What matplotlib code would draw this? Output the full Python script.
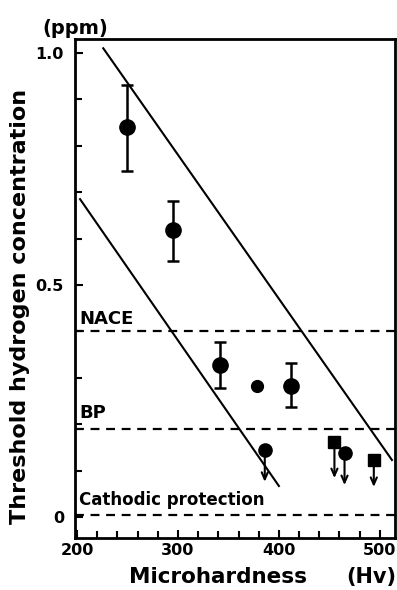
import numpy as np
import matplotlib
matplotlib.use("Agg")
import matplotlib.pyplot as plt
from matplotlib.ticker import MultipleLocator

# Data
hv_err = [250, 295, 342, 412]
h_err = [0.84, 0.618, 0.328, 0.282]
err_lo = [0.094, 0.066, 0.049, 0.044]
err_hi = [0.09, 0.062, 0.05, 0.051]

hv_small = [378]
h_small = [0.282]

# upper-limit points (arrows)
hv_circ_up = [386, 465]
h_circ_up = [0.144, 0.139]
h_circ_tip = [0.076, 0.069]
hv_sq_up = [455, 494]
h_sq_up = [0.162, 0.124]
h_sq_tip = [0.084, 0.065]

# boundary lines
upper_x = [226, 512]
upper_y = [1.01, 0.123]
lower_x = [203, 400]
lower_y = [0.685, 0.067]

# reference levels
levels = {"NACE": 0.40, "BP": 0.19, "Cathodic protection": 0.005}

fig = plt.figure(figsize=(3.97, 5.90), dpi=100)
ax = fig.add_axes([75 / 397, 52 / 590, 320 / 397, 499 / 590])

ax.set_xlim(198, 515)
ax.set_ylim(-0.045, 1.03)

for sp in ax.spines.values():
    sp.set_linewidth(2)

ax.xaxis.set_minor_locator(MultipleLocator(20))
ax.yaxis.set_minor_locator(MultipleLocator(0.1))
ax.tick_params(which="both", direction="in", width=1.5, labelsize=11.5)
ax.tick_params(which="major", length=6)
ax.tick_params(which="minor", length=5)
ax.tick_params(axis="y", pad=8)
ax.set_xticks([200, 300, 400, 500])
ax.set_xticklabels(["200", "300", "400", "500"], fontweight="bold")
ax.set_yticks([0, 0.5, 1.0])
ax.set_yticklabels(["0", "0.5", "1.0"], fontweight="bold")

# dashed reference lines
for lab, yv in levels.items():
    ax.axhline(yv, color="black", linestyle=(0, (4, 3)), linewidth=1.6)
ax.text(202, levels["NACE"] + 0.008, "NACE", fontsize=13, fontweight="bold",
        va="bottom")
ax.text(202, levels["BP"] + 0.015, "BP", fontsize=13, fontweight="bold",
        va="bottom")
ax.text(202, levels["Cathodic protection"] + 0.012, "Cathodic protection",
        fontsize=12, fontweight="bold", va="bottom")

# boundary lines
ax.plot(upper_x, upper_y, color="black", linewidth=1.5)
ax.plot(lower_x, lower_y, color="black", linewidth=1.5)

# data with error bars
ax.errorbar(hv_err, h_err, yerr=[err_lo, err_hi], fmt="o", color="black",
            markersize=11, capsize=4, elinewidth=1.8, capthick=1.8)
ax.plot(hv_small, h_small, "o", color="black", markersize=8.5)

# upper-limit points
ax.plot(hv_circ_up, h_circ_up, "o", color="black", markersize=9.5)
ax.plot(hv_sq_up, h_sq_up, "s", color="black", markersize=9)
for xv, y0, y1 in zip(hv_circ_up + hv_sq_up, h_circ_up + h_sq_up,
                      h_circ_tip + h_sq_tip):
    ax.annotate("", xy=(xv, y1), xytext=(xv, y0),
                arrowprops=dict(arrowstyle="->,head_length=0.5,head_width=0.22",
                                color="black", lw=1.5, shrinkA=0, shrinkB=0))

fig.text(218 / 397, 1 - 577 / 590, "Microhardness", fontsize=15.5,
         fontweight="bold", ha="center", va="center")
fig.text(371 / 397, 1 - 577 / 590, "(Hv)", fontsize=15, fontweight="bold",
         ha="center", va="center")
fig.text(20 / 397, 1 - 306 / 590, "Threshold hydrogen concentration",
         fontsize=16, fontweight="bold", rotation=90, ha="center", va="center")
fig.text(75 / 397, 1 - 28 / 590, "(ppm)", fontsize=14, fontweight="bold",
         ha="center", va="center")

fig.savefig("out.png", dpi=100)
